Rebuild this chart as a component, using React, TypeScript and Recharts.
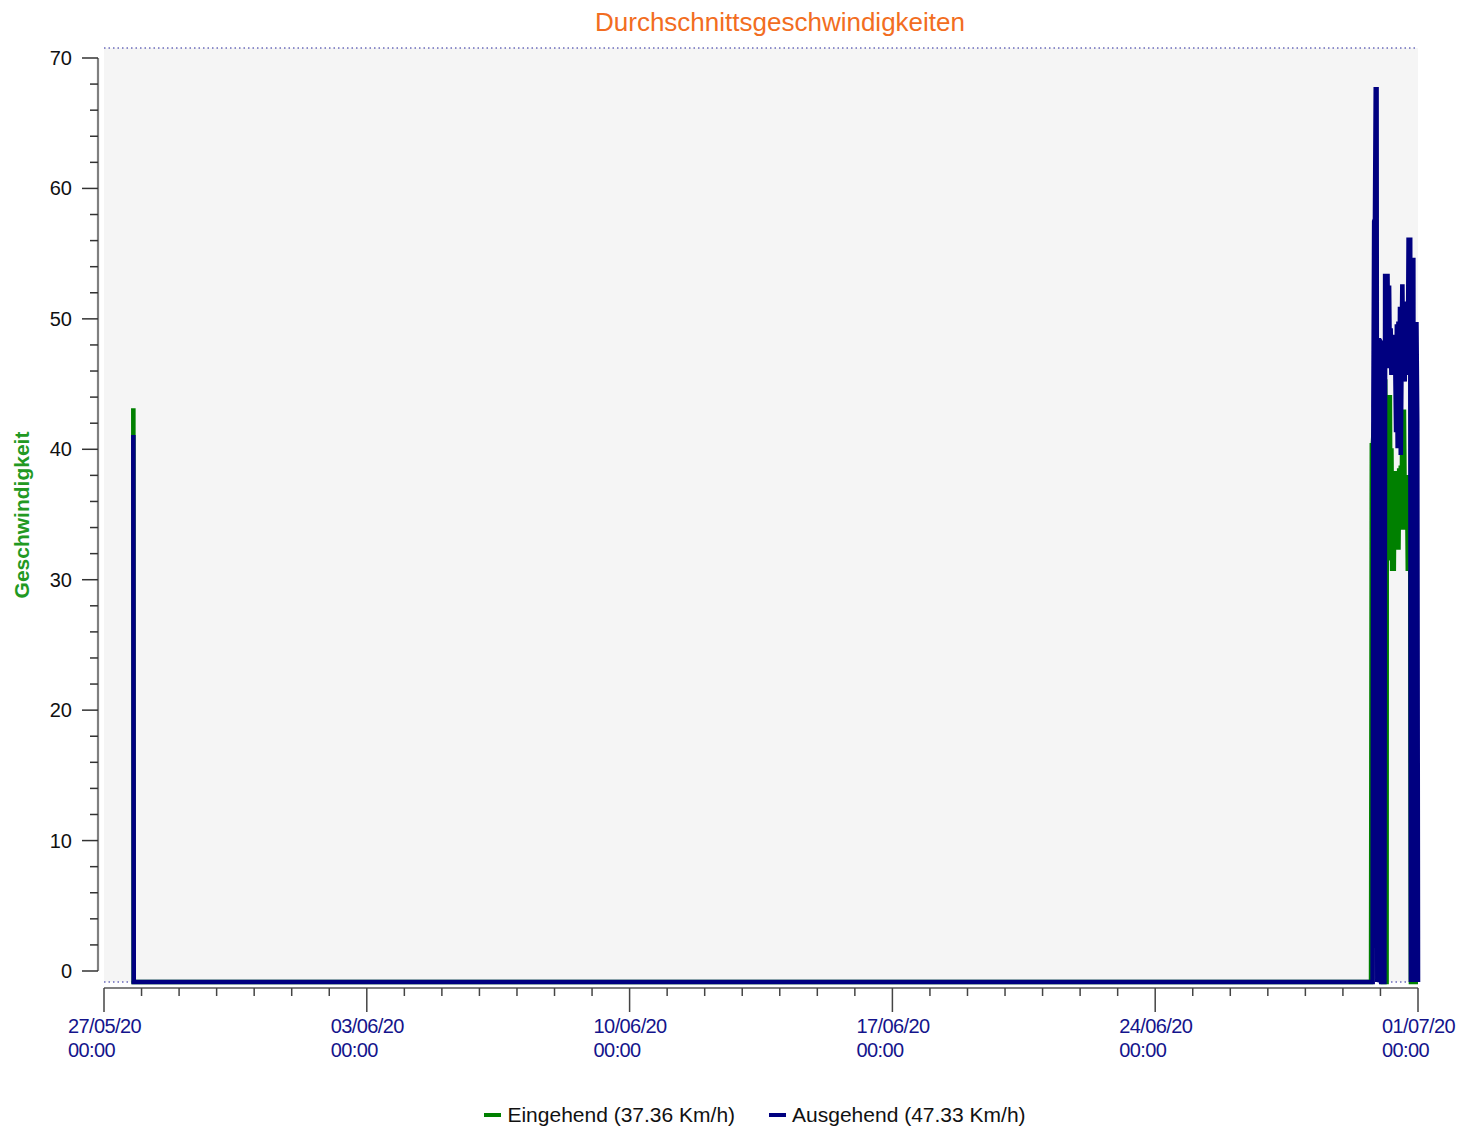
import React from "react";
import { LineChart, Line, XAxis, YAxis, CartesianGrid, Legend } from "recharts";

const TITLE = "Durchschnittsgeschwindigkeiten";
const Y_LABEL = "Geschwindigkeit";
const SERIES_NAMES = ["Eingehend", "Ausgehend"];
const SERIES_AVG = [37.36, 47.33];
const SERIES_COLORS = ["#008000", "#000080"];

// major x ticks, one per week
const X_TICK_DATES = ["27/05/20", "03/06/20", "10/06/20", "17/06/20", "24/06/20", "01/07/20"];
const X_TICK_TIME = "00:00";

// hours since 27/05/20 00:00
const IN_HOURS = [
  18.75, 19, 810, 810.5, 811, 811.5, 812, 812.5, 813, 813.5, 814, 814.5, 815, 815.5, 816, 816.5,
  817, 817.5, 818, 818.5, 819, 819.5, 819.7, 819.8, 819.9, 820, 820.5, 821, 821.5, 822, 822.5,
  823, 823.5, 824, 824.5, 825, 825.5, 826, 826.5, 827, 827.5, 828, 828.5, 829, 829.5, 830,
  830.5, 831, 831.5, 832, 832.5, 833, 833.5, 834, 834.5, 835, 835.5, 840,
];
const IN_SPEED = [
  43.0, 0, 0, 40.4, 40, 41, 42, 40, 38, 39, 37, 40, 41, 39, 38, 40,
  40, 0, 0, 45, 45, 38, 33, 0, 0, 36, 31.6, 40, 31.6, 44, 31.6,
  40, 30.8, 38, 30.8, 38, 32.6, 38.3, 32.6, 37, 32.4, 38.5, 33.9, 38.7, 33.9, 42.9,
  33.9, 42.9, 35.6, 38, 35.6, 38, 30.8, 37, 30.8, 36, 0, 0,
];

const OUT_HOURS = [
  18.75, 19, 811, 811.5, 812, 812.5, 813, 813.5, 814, 814.5, 815, 815.5, 816, 816.5, 818.5,
  819, 819.5, 820, 820.5, 821, 821.5, 822, 822.5, 823, 823.5, 824, 824.5, 825, 825.5, 826,
  826.5, 827, 827.5, 828, 828.5, 829, 829.5, 830, 830.5, 831, 831.5, 832, 832.5, 833, 833.5,
  834, 834.5, 835, 835.5, 836, 836.5, 837, 837.5, 838, 838.5, 839, 839.5, 840,
];
const OUT_SPEED = [
  41.0, 0, 0, 43.1, 57, 57.2, 66.9, 66.9, 0, 48.1, 48.1, 48.1, 48, 0, 0,
  52.9, 52.9, 52.9, 52.9, 46, 52.2, 46, 49, 45.5, 48.5, 46.6, 47.5, 46.6, 46, 41.2,
  49.3, 40, 49.5, 40, 50.6, 39.5, 47, 52.3, 45, 47.1, 45, 50.5, 45.5, 51, 46,
  55.8, 47, 55.8, 0, 54.1, 54.1, 54.1, 0, 49.3, 49.3, 49.3, 42, 0,
];

const inData = IN_HOURS.map((t, i) => ({ t, v: IN_SPEED[i] }));
const outData = OUT_HOURS.map((t, i) => ({ t, v: OUT_SPEED[i] }));

const DAYS = 35;
const X_TICKS = Array.from({ length: DAYS + 1 }, (_, i) => i * 24);
const Y_TICKS = Array.from({ length: 36 }, (_, i) => i * 2);
const Y_GRID = [0, 10, 20, 30, 40, 50, 60, 70];

// layout
const W = 1474;
const H = 1131;
const PLOT_TOP = 48;
const PLOT_BOTTOM = 982;
const PLOT_LEFT = 104;
const PLOT_RIGHT = 1418;
const PLOT_W = PLOT_RIGHT - PLOT_LEFT;
const X_AXIS_H = 60;
const Y_PAD_TOP = 10;
const Y_PAD_BOTTOM = 11;
const Y_AXIS_SPAN = PLOT_BOTTOM - Y_PAD_BOTTOM - (PLOT_TOP + Y_PAD_TOP);
const FONT = "'Liberation Sans', Arial, sans-serif";
const LINE_W = 4.6;

function YTick(props: any) {
  const { x, y, payload, index } = props;
  const v = payload.value as number;
  const major = v % 10 === 0;
  return (
    <g>
      {index === 0 && (
        <line x1={x} x2={x} y1={y} y2={y - Y_AXIS_SPAN} stroke="#808080" strokeWidth={2.2} />
      )}
      <line x1={x - (major ? 16 : 8)} x2={x} y1={y} y2={y} stroke="#333" strokeWidth={1.5} />
      {major && (
        <text
          x={x - 26}
          y={y}
          textAnchor="end"
          dominantBaseline="central"
          fontFamily={FONT}
          fontSize={20}
          fill="#111"
        >
          {v}
        </text>
      )}
    </g>
  );
}

function XTick(props: any) {
  const { x, y, payload, index } = props;
  const day = Math.round((payload.value as number) / 24);
  const major = day % 7 === 0;
  const ay = y + 6;
  return (
    <g>
      {index === 0 && (
        <line x1={x} x2={x + PLOT_W} y1={ay} y2={ay} stroke="#808080" strokeWidth={2} />
      )}
      <line x1={x} x2={x} y1={ay} y2={ay + (major ? 24 : 8)} stroke="#444" strokeWidth={1.5} />
      {major && (
        <text fontFamily={FONT} fontSize={20} letterSpacing={-0.6} fill="#14148c">
          <tspan x={x - 36} y={y + 51}>
            {X_TICK_DATES[day / 7]}
          </tspan>
          <tspan x={x - 36} y={y + 75}>
            {X_TICK_TIME}
          </tspan>
        </text>
      )}
    </g>
  );
}

function YAxisLabel(props: any) {
  const vb = props.viewBox || {};
  const cy = vb.height ? vb.y + vb.height / 2 : (PLOT_TOP + PLOT_BOTTOM) / 2;
  const cx = 21;
  return (
    <text
      x={cx}
      y={cy}
      transform={`rotate(-90 ${cx} ${cy})`}
      textAnchor="middle"
      dominantBaseline="central"
      fontFamily={FONT}
      fontSize={21}
      fontWeight="bold"
      fill="#229922"
    >
      {Y_LABEL}
    </text>
  );
}

function LegendContent(props: any) {
  const items = [...(props.payload || [])].sort(
    (a: any, b: any) =>
      SERIES_NAMES.findIndex((n) => String(a.value).startsWith(n)) -
      SERIES_NAMES.findIndex((n) => String(b.value).startsWith(n))
  );
  return (
    <div
      style={{
        display: "flex",
        justifyContent: "center",
        paddingLeft: 36,
        fontFamily: FONT,
        fontSize: 21,
        lineHeight: "28px",
        color: "#111",
      }}
    >
      {items.map((it: any, i: number) => (
        <span key={i} style={{ display: "flex", alignItems: "center", marginLeft: i ? 34 : 0 }}>
          <span
            style={{ display: "inline-block", width: 17, height: 4, background: it.color, marginRight: 6 }}
          />
          {it.value}
        </span>
      ))}
    </div>
  );
}

export default function App() {
  return (
    <div style={{ position: "absolute", left: 0, top: 0, width: W, height: H, background: "#fff" }}>
      <div
        style={{
          position: "absolute",
          left: 780,
          top: 22,
          transform: "translate(-50%, -50%)",
          fontFamily: FONT,
          fontSize: 26,
          lineHeight: 1,
          color: "#f26d21",
          whiteSpace: "nowrap",
        }}
      >
        {TITLE}
      </div>
      <LineChart
        width={W}
        height={H}
        margin={{ top: PLOT_TOP, right: W - PLOT_RIGHT, left: 0, bottom: H - PLOT_BOTTOM - X_AXIS_H }}
      >
        <CartesianGrid
          yAxisId="data"
          vertical={false}
          fill="#f5f5f5"
          stroke="#22229a"
          strokeDasharray="1.5 3"
        />
        <XAxis
          type="number"
          dataKey="t"
          domain={[0, DAYS * 24]}
          ticks={X_TICKS}
          interval={0}
          height={X_AXIS_H}
          axisLine={false}
          tickLine={false}
          tickSize={0}
          tickMargin={0}
          tick={<XTick />}
        />
        <YAxis
          yAxisId="data"
          type="number"
          domain={[0, 70]}
          ticks={Y_GRID}
          width={6}
          axisLine={false}
          tickLine={false}
          tick={false}
        />
        <YAxis
          yAxisId="vis"
          type="number"
          domain={[0, 70]}
          allowDataOverflow
          ticks={Y_TICKS}
          interval={0}
          padding={{ top: Y_PAD_TOP, bottom: Y_PAD_BOTTOM }}
          width={PLOT_LEFT - 6}
          axisLine={false}
          tickLine={false}
          tickSize={0}
          tickMargin={0}
          tick={<YTick />}
          label={YAxisLabel}
        />
        <Legend
          layout="horizontal"
          verticalAlign="middle"
          align="center"
          wrapperStyle={{ left: 0, top: 1101, width: W, height: 28 }}
          content={(p: any) => <LegendContent payload={p.payload} />}
        />
        <Line
          yAxisId="data"
          data={inData}
          dataKey="v"
          name={`${SERIES_NAMES[0]} (${SERIES_AVG[0].toFixed(2)} Km/h)`}
          type="linear"
          stroke={SERIES_COLORS[0]}
          strokeWidth={LINE_W}
          dot={false}
          activeDot={false}
          isAnimationActive={false}
        />
        <Line
          yAxisId="data"
          data={outData}
          dataKey="v"
          name={`${SERIES_NAMES[1]} (${SERIES_AVG[1].toFixed(2)} Km/h)`}
          type="linear"
          stroke={SERIES_COLORS[1]}
          strokeWidth={LINE_W}
          dot={false}
          activeDot={false}
          isAnimationActive={false}
        />
      </LineChart>
    </div>
  );
}
